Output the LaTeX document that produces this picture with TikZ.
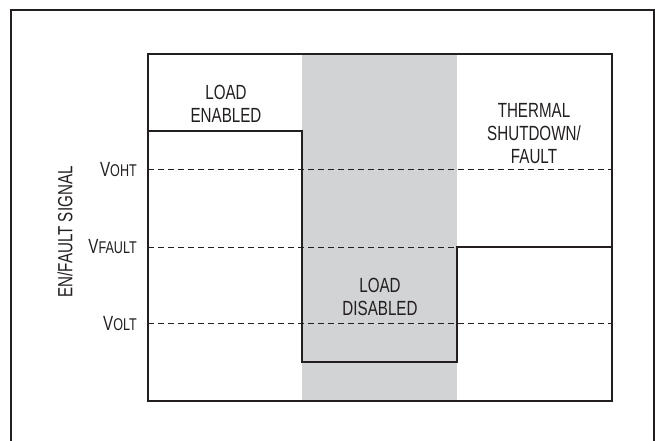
\documentclass[tikz,border=0pt]{standalone}
\usepackage{fontspec}
\setmainfont[FakeStretch=0.74]{Liberation Sans}
\definecolor{bandgray}{HTML}{D1D3D4}
\definecolor{ink}{HTML}{231F20}
\tikzset{
  frame/.style={draw=ink, line width=1.4pt},
  signal/.style={draw=ink, line width=1.4pt},
  level/.style={draw=ink, line width=0.9pt, dash pattern=on 6pt off 4pt},
  lbl/.style={text=ink, font=\fontsize{20.5}{23}\selectfont, align=center, inner sep=0pt},
  vlbl/.style={text=ink, font=\fontsize{20.5}{23}\selectfont, anchor=east, inner sep=0pt}
}
\newcommand{\smallsub}[1]{{\fontsize{17}{17}\selectfont #1}}
\begin{document}
\begin{tikzpicture}[x=1pt,y=-1pt]
\useasboundingbox (0,0) rectangle (655,440);
% outer frame (open at the bottom, cut by the page)
\coordinate (ob1) at (11,445);
\coordinate (ot1) at (11,10);
\coordinate (ot2) at (654,10);
\coordinate (ob2) at (654,445);
\draw[frame] (ob1) -- (ot1) -- (ot2) -- (ob2);
% shaded band
\fill[bandgray] (302,54) rectangle (457,401);
% threshold levels
\coordinate (oht1) at (148,169); \coordinate (oht2) at (612,169);
\coordinate (flt1) at (148,247); \coordinate (flt2) at (612,247);
\coordinate (olt1) at (148,323); \coordinate (olt2) at (612,323);
\draw[level] (oht1) -- (oht2);
\draw[level] (flt1) -- (flt2);
\draw[level] (olt1) -- (olt2);
% signal
\coordinate (s0) at (148,131);
\coordinate (s1) at (302,131);
\coordinate (s2) at (302,362);
\coordinate (s3) at (457,362);
\coordinate (s4) at (457,247);
\coordinate (s5) at (612,247);
\draw[signal] (s0) -- (s1) -- (s2) -- (s3) -- (s4) -- (s5);
% plot box
\draw[frame] (148,54) rectangle (612,401);
% labels
\node[lbl] (en) at (226,104) {LOAD\\ENABLED};
\node[lbl] (dis) at (380,297) {LOAD\\DISABLED};
\node[lbl] (th) at (534,134) {THERMAL\\SHUTDOWN/\\FAULT};
\node[vlbl] (voht) at (137,170) {V\smallsub{OHT}};
\node[vlbl] (vflt) at (137,247) {V\smallsub{FAULT}};
\node[vlbl] (volt) at (137,324) {V\smallsub{OLT}};
\node[lbl, rotate=90] (axis) at (65,232) {EN/FAULT SIGNAL};
\end{tikzpicture}
\end{document}
